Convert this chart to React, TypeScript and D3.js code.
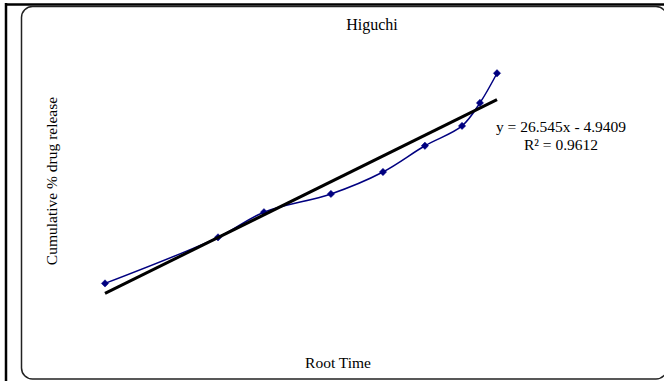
import React from "react";
import * as d3 from "d3";

// Root time (sqrt hours) and cumulative % drug release
const rootTime = [0.707, 1.502, 1.825, 2.296, 2.662, 2.957, 3.218, 3.344, 3.464];
const cumulativeRelease = [17.6, 35.0, 44.5, 51.4, 59.7, 69.6, 77.1, 85.8, 97.0];
const trendSlope = 26.545;
const trendIntercept = -4.9409;
const trendR2 = 0.9612;
const chartTitle = "Higuchi";
const xLabel = "Root Time";
const yLabel = "Cumulative % drug release";

const W = 664;
const H = 381;
const FONT = "'Liberation Serif', 'Times New Roman', serif";

export default function App() {
  const xExt = d3.extent(rootTime) as [number, number];
  const x = d3.scaleLinear().domain(xExt).range([105, 497]);
  const y = d3.scaleLinear().domain([0, 100]).range([330, 65.3]);

  const pts: [number, number][] = rootTime.map((t, i) => [t, cumulativeRelease[i]]);
  const line = d3
    .line<[number, number]>()
    .x((d) => x(d[0]))
    .y((d) => y(d[1]))
    .curve(d3.curveCatmullRom.alpha(0.5));

  const trendPts: [number, number][] = xExt.map((t) => [t, trendSlope * t + trendIntercept]);
  const trendLine = d3
    .line<[number, number]>()
    .x((d) => x(d[0]))
    .y((d) => y(d[1]));

  const diamond = d3.symbol().type(d3.symbolDiamond2).size(34)();

  const fmt = (v: number) => v.toFixed(4);
  const eqText = `y = ${trendSlope}x ${trendIntercept < 0 ? "-" : "+"} ${Math.abs(trendIntercept)}`;

  return (
    <svg
      width={W}
      height={H}
      style={{ position: "absolute", left: 0, top: 0, background: "#fff" }}
      fontFamily={FONT}
    >
      <rect x={0} y={0} width={W} height={H} fill="#fff" />
      {/* outer frame lines */}
      <line x1={5} x2={W} y1={4.5} y2={4.5} stroke="#000" strokeWidth={2.5} />
      <line x1={6} x2={6} y1={3} y2={H} stroke="#000" strokeWidth={2.5} />
      {/* chart area border */}
      <rect
        x={21.5}
        y={6.5}
        width={645.5}
        height={372.5}
        rx={11}
        ry={11}
        fill="#fff"
        stroke="#222"
        strokeWidth={1.5}
      />
      <text x={372} y={30} textAnchor="middle" fontSize={16} fill="#000">
        {chartTitle}
      </text>
      <text
        transform={`translate(57,181) rotate(-90)`}
        textAnchor="middle"
        fontSize={15.5}
        fill="#000"
      >
        {yLabel}
      </text>
      <text x={338} y={368} textAnchor="middle" fontSize={15.5} fill="#000">
        {xLabel}
      </text>

      <path d={line(pts) ?? ""} fill="none" stroke="#000080" strokeWidth={1.5} />
      {pts.map((d, i) => (
        <path
          key={i}
          d={diamond ?? ""}
          transform={`translate(${x(d[0])},${y(d[1])})`}
          fill="#000080"
          stroke="#000080"
          strokeWidth={0.5}
        />
      ))}
      <path d={trendLine(trendPts) ?? ""} fill="none" stroke="#000" strokeWidth={3} />

      <text x={561} y={132} textAnchor="middle" fontSize={15.5} fill="#000">
        {eqText}
      </text>
      <text x={561} y={149.5} textAnchor="middle" fontSize={15.5} fill="#000">
        {`R² = ${trendR2}`}
      </text>
    </svg>
  );
}
